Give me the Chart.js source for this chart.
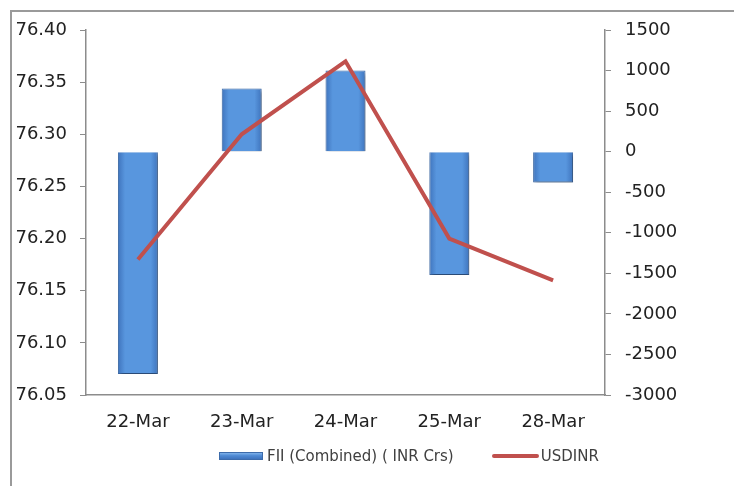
<!DOCTYPE html>
<html>
<head>
<meta charset="utf-8">
<script src="https://cdn.jsdelivr.net/npm/chart.js@4.4.1/dist/chart.umd.min.js"></script>
<style>
  body { margin: 0; background: #fff; }
  #wrap { position: relative; width: 734px; height: 486px; overflow: hidden; }
  #frame { position: absolute; left: 10px; top: 10px; width: 800px; height: 600px;
           border: 2px solid #9a9a9a; border-right: none; border-bottom: none; }
  canvas { position: absolute; left: 0; top: 0; }
  #legend { position: absolute; left: 219px; top: 447px; display: flex; align-items: center;
            font: 15px "DejaVu Sans"; color: #404040; white-space: nowrap; }
  #legend .item { display: flex; align-items: center; margin-right: 38px; }
  #legend .box { width: 42px; height: 6px; margin-right: 4px; border: 1px solid #3d6cab; }
  #legend .line { width: 47px; height: 4px; border-radius: 2px; margin-right: 2px; }
</style>
</head>
<body>
<div id="wrap">
  <div id="frame"></div>
  <canvas id="myChart" width="734" height="486"></canvas>
  <div id="legend"></div>
</div>
<script>
// data
var dates = ['22-Mar', '23-Mar', '24-Mar', '25-Mar', '28-Mar'];
var fiiFlows = [-2740, 780, 1000, -1520, -380];     // INR Crs, right axis
var usdInr = [76.18, 76.30, 76.37, 76.20, 76.16];   // left axis

var barPct = 0.385;
var lineColor = '#c0504d';

function barFill(c) {
    var chart = c.chart;
    var area = chart.chartArea;
    if (!area || c.dataIndex === undefined) return '#5a96dc';
    var x = chart.scales.x.getPixelForValue(c.dataIndex);
    var half = (area.right - area.left) / dates.length * barPct / 2;
    var g = chart.ctx.createLinearGradient(x - half, 0, x + half, 0);
    g.addColorStop(0, '#3f74bd');
    g.addColorStop(0.18, '#5896de');
    g.addColorStop(0.82, '#5896de');
    g.addColorStop(1, '#3f74bd');
    return g;
}

// soft drop shadow under the bars
var barShadow = {
    id: 'barShadow',
    beforeDatasetDraw: function(chart, args) {
        if (args.index !== 0) return;
        var ctx = chart.ctx;
        ctx.save();
        ctx.shadowColor = 'rgba(0,0,0,0.35)';
        ctx.shadowBlur = 4;
        ctx.shadowOffsetX = 2;
        ctx.shadowOffsetY = 3;
    },
    afterDatasetDraw: function(chart, args) {
        if (args.index === 0) chart.ctx.restore();
    }
};

var tickFont = { family: 'DejaVu Sans', size: 18 };

var ctx = document.getElementById('myChart').getContext('2d');
var chart = new Chart(ctx, {
    type: 'bar',
    data: {
        labels: dates,
        datasets: [{
            type: 'bar',
            label: 'FII (Combined) ( INR Crs)',
            data: fiiFlows,
            yAxisID: 'y1',
            order: 1,
            backgroundColor: barFill,
            borderColor: '#3d6cab',
            borderWidth: 1,
            barPercentage: barPct,
            categoryPercentage: 1
        }, {
            type: 'line',
            label: 'USDINR',
            data: usdInr,
            yAxisID: 'y',
            order: 0,
            borderColor: lineColor,
            backgroundColor: lineColor,
            borderWidth: 4,
            pointRadius: 0,
            tension: 0
        }]
    },
    options: {
        responsive: false,
        devicePixelRatio: 1,
        animation: false,
        layout: { padding: { left: 0, right: 0, top: 30, bottom: 0 } },
        plugins: {
            tooltip: { enabled: false },
            legend: { display: false }
        },
        scales: {
            x: {
                grid: { display: false, drawTicks: false },
                border: { display: true, color: '#8c8c8c', width: 1.5 },
                ticks: { color: '#222', padding: 17, font: tickFont },
                afterFit: function(s) { s.height = 91; }
            },
            y: {
                position: 'left',
                min: 76.05,
                max: 76.40,
                grid: { drawOnChartArea: false, drawTicks: true, tickLength: 6, color: '#8c8c8c' },
                border: { display: true, color: '#8c8c8c', width: 1.5 },
                ticks: {
                    stepSize: 0.05,
                    padding: 13,
                    color: '#222',
                    font: tickFont,
                    callback: function(v) { return Number(v).toFixed(2); }
                },
                afterFit: function(s) { s.width = 86; }
            },
            y1: {
                position: 'right',
                min: -3000,
                max: 1500,
                grid: { drawOnChartArea: false, drawTicks: true, tickLength: 6, color: '#8c8c8c' },
                border: { display: true, color: '#8c8c8c', width: 1.5 },
                ticks: {
                    stepSize: 500,
                    padding: 14,
                    color: '#222',
                    font: tickFont,
                    callback: function(v) { return String(v); }
                },
                afterFit: function(s) { s.width = 129; }
            }
        }
    },
    plugins: [barShadow]
});

// html legend built from the datasets
var legendEl = document.getElementById('legend');
chart.data.datasets.forEach(function(ds) {
    var item = document.createElement('span');
    item.className = 'item';
    var sw = document.createElement('span');
    if (ds.type === 'line') {
        sw.className = 'line';
        sw.style.background = ds.borderColor;
    } else {
        sw.className = 'box';
        sw.style.background = 'linear-gradient(#7fb2ea, #4f8ad4 45%, #3f74bd)';
    }
    var txt = document.createElement('span');
    txt.textContent = ds.label;
    item.appendChild(sw);
    item.appendChild(txt);
    legendEl.appendChild(item);
});
</script>
</body>
</html>
